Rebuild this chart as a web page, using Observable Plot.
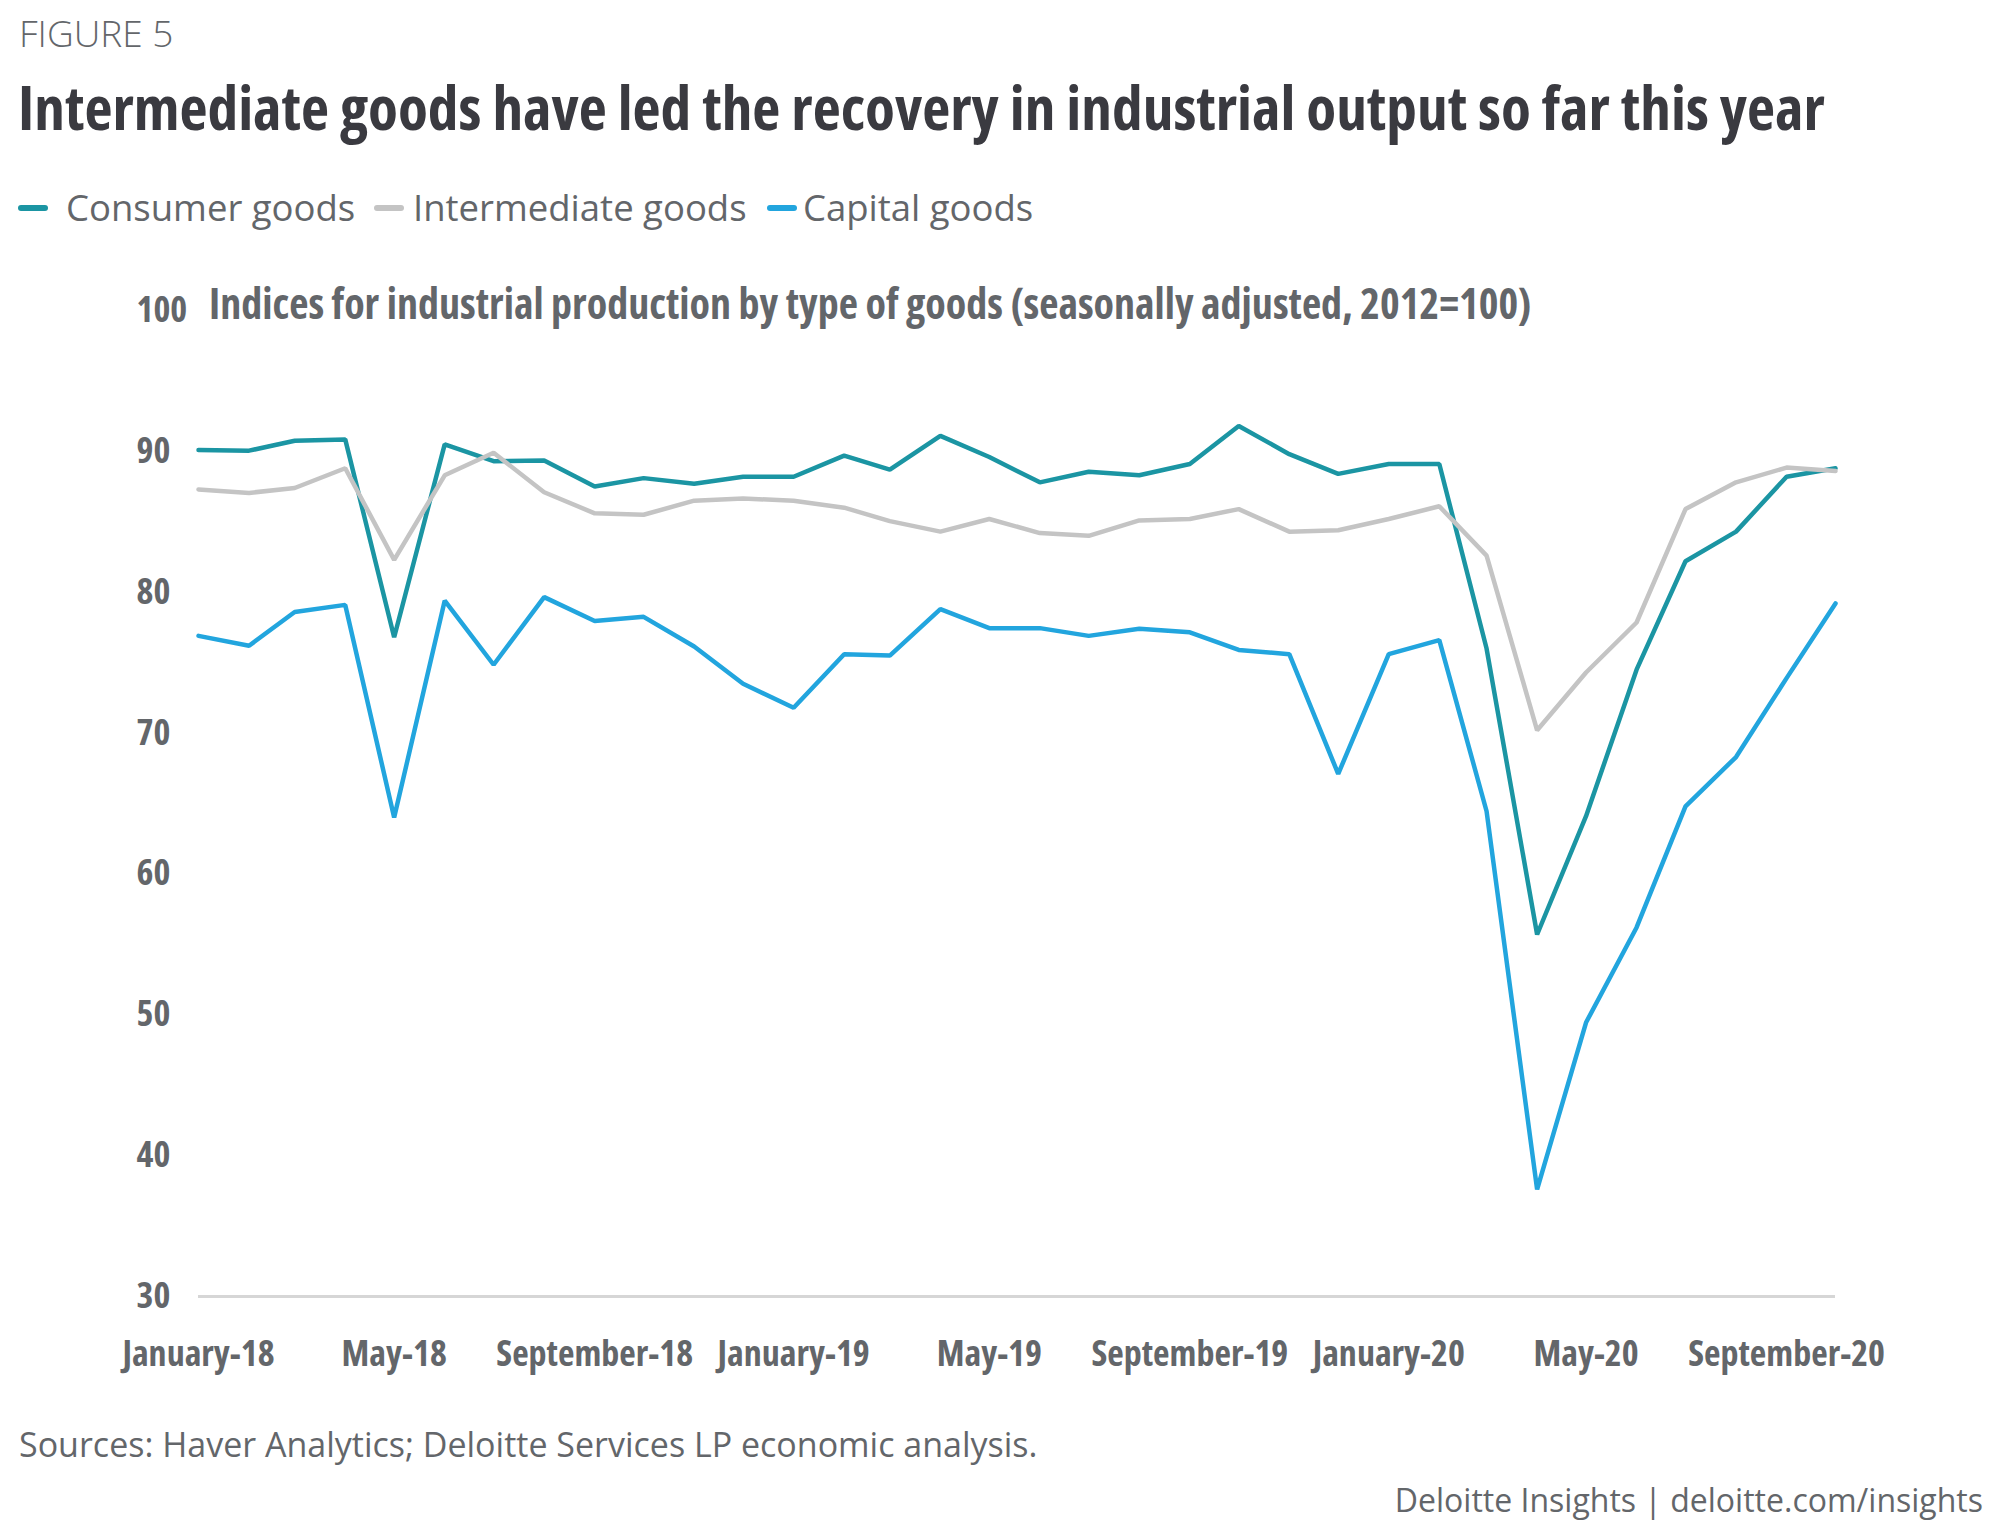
<!DOCTYPE html>
<html><head><meta charset="utf-8">
<script src="https://cdn.jsdelivr.net/npm/d3@7"></script>
<script src="https://cdn.jsdelivr.net/npm/@observablehq/plot@0.6"></script>
<style>
body{margin:0;background:#fff;width:2000px;height:1540px;position:relative;overflow:hidden;font-family:"Open Sans",sans-serif;color:#63666a}
.abs{position:absolute;white-space:nowrap;line-height:1}
#fig{left:19px;top:14px;font-size:37px;font-weight:300}
#title{left:18px;top:76px;font-size:61.3px;font-weight:700;color:#3a3a40;font-stretch:75%}
.sw{position:absolute;width:30px;height:6px;border-radius:3px}
.lg{font-size:36.5px;top:189px}
#ytitle{left:209px;top:282px;font-size:42px;font-weight:700;font-stretch:75%}
#chart{position:absolute;left:0;top:230px}
#src{left:19px;top:1427px;font-size:34px}
#credit{right:17px;top:1484px;font-size:32px}
</style>
</head><body>
<div id="fig" class="abs">FIGURE 5</div>
<div id="title" class="abs">Intermediate goods have led the recovery in industrial output so far this year</div>
<div id="legend"></div>
<div id="chart"></div>
<div id="ytitle" class="abs">Indices for industrial production by type of goods (seasonally adjusted, 2012=100)</div>
<div id="src" class="abs">Sources: Haver Analytics; Deloitte Services LP economic analysis.</div>
<div id="credit" class="abs">Deloitte Insights | deloitte.com/insights</div>
<script>
const months = ["2018-01","2018-02","2018-03","2018-04","2018-05","2018-06","2018-07","2018-08","2018-09","2018-10","2018-11","2018-12",
"2019-01","2019-02","2019-03","2019-04","2019-05","2019-06","2019-07","2019-08","2019-09","2019-10","2019-11","2019-12",
"2020-01","2020-02","2020-03","2020-04","2020-05","2020-06","2020-07","2020-08","2020-09","2020-10"];
const consumer = [90.1,90.05,90.75,90.85,76.8,90.5,89.3,89.35,87.5,88.1,87.7,88.2,
88.2,89.7,88.7,91.1,89.6,87.8,88.55,88.3,89.1,91.8,89.8,88.4,
89.1,89.1,76.0,55.7,64.1,74.5,82.2,84.3,88.2,88.8];
const intermediate = [87.3,87.05,87.4,88.8,82.3,88.3,89.9,87.1,85.6,85.5,86.5,86.65,
86.5,86.0,85.05,84.3,85.2,84.2,84.0,85.1,85.2,85.9,84.3,84.4,
85.2,86.1,82.6,70.2,74.3,77.85,85.9,87.8,88.85,88.6];
const capital = [76.9,76.2,78.6,79.1,64.0,79.4,74.85,79.65,77.95,78.25,76.15,73.5,
71.8,75.6,75.5,78.8,77.45,77.45,76.9,77.4,77.15,75.9,75.6,67.1,
75.6,76.6,64.45,37.6,49.45,56.2,64.8,68.3,73.9,79.2];
const seriesNames = ["Consumer goods","Intermediate goods","Capital goods"];
const seriesColors = ["#1b95a3","#c4c4c4","#22a5de"];
const tickMonths = ["2018-01","2018-05","2018-09","2019-01","2019-05","2019-09","2020-01","2020-05","2020-09"];
const tickLabels = ["January-18","May-18","September-18","January-19","May-19","September-19","January-20","May-20","September-20"];
const yTicks = [30,40,50,60,70,80,90,100];

const parse = d3.utcParse("%Y-%m");
const fmt = d3.utcFormat("%Y-%m");
const data = [];
[consumer, intermediate, capital].forEach((vals, i) =>
  vals.forEach((v, j) => data.push({date: parse(months[j]), value: v, series: seriesNames[i]})));

// legend
const legend = document.getElementById("legend");
const swX = [18, 374, 767], txX = [66, 413, 803];
seriesNames.forEach((n, i) => {
  const s = document.createElement("div");
  s.className = "sw"; s.style.left = swX[i] + "px"; s.style.top = "205px"; s.style.background = seriesColors[i];
  legend.appendChild(s);
  const t = document.createElement("div");
  t.className = "abs lg"; t.style.left = txX[i] + "px"; t.textContent = n;
  legend.appendChild(t);
});

const chart = Plot.plot({
  width: 2000, height: 1160,
  marginLeft: 198, marginRight: 165, marginTop: 80, marginBottom: 94,
  style: {fontFamily: "Open Sans", fontStretch: "75%", fontWeight: 700, background: "white", color: "#63666a"},
  x: {type: "utc", domain: [parse(months[0]), parse(months[months.length - 1])]},
  y: {domain: [30, 100]},
  color: {domain: seriesNames, range: seriesColors},
  marks: [
    Plot.ruleY([30], {stroke: "#d6d6d6", strokeWidth: 3}),
    Plot.lineY(data, {x: "date", y: "value", stroke: "series", strokeWidth: 4.5, strokeLinejoin: "miter"}),
    Plot.axisY(yTicks, {anchor: "left", tickSize: 0, tickPadding: 0, dx: -62, textAnchor: "start",
      tickFormat: d => String(d), fontSize: 36, fontWeight: 700, fill: "#63666a", label: null}),
    Plot.axisX(tickMonths.map(parse), {anchor: "bottom", tickSize: 0, tickPadding: 44,
      tickFormat: d => tickLabels[tickMonths.indexOf(fmt(d))], fontSize: 36, fontWeight: 700, fill: "#63666a", label: null})
  ]
});
document.getElementById("chart").appendChild(chart);
</script>
</body></html>
